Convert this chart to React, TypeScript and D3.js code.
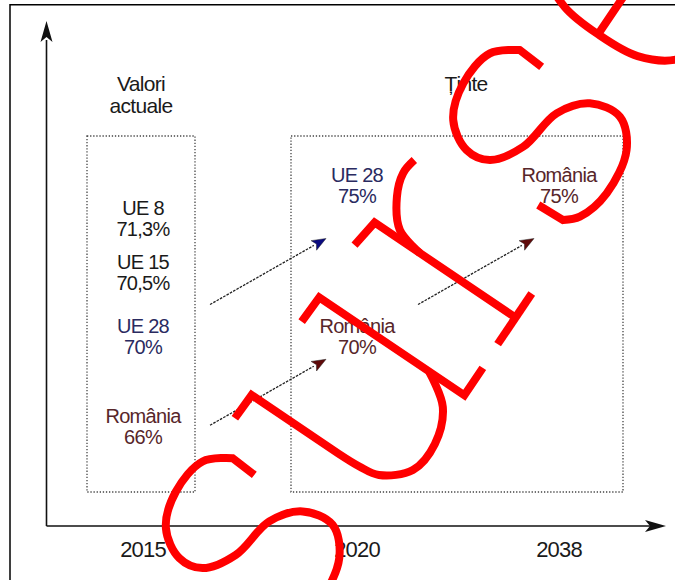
import React from "react";
import * as d3 from "d3";

// ---------- data ----------
const years = ["2015", "2020", "2038"];
const currentLabels = ["UE 8", "UE 15", "UE 28", "România"];
const currentValues = [71.3, 70.5, 70, 66];
const target2020Labels = ["UE 28", "România"];
const target2020Values = [75, 70];
const target2038Labels = ["România"];
const target2038Values = [75];
const headingCurrent = ["Valori", "actuale"];
const headingTargets = ["Ținte"];
const arrowFrom = [[0, 70], [0, 66], [1, 70]];
const arrowTo = [[1, 75], [1, 70], [2, 75]];
const watermarkWord = "surse";

// ---------- styling / layout ----------
const W = 675;
const H = 580;
const FONT = "'Liberation Sans', Arial, Helvetica, sans-serif";
const labelColor: Record<string, string> = {
  "UE 8": "#1a1a1a",
  "UE 15": "#1a1a1a",
  "UE 28": "#2a2a60",
  "România": "#57262a",
};
const headColor: Record<string, string> = {
  "UE 28": "#0a0a80",
  "România": "#600a0a",
};

const xCol = d3.scaleOrdinal<string, number>().domain(years).range([143, 357, 559]);
// label baseline position for a value (diagram, piecewise)
const yVal = d3
  .scaleLinear()
  .domain([66, 70, 70.5, 71.3, 75])
  .range([423.3, 333.3, 269, 215, 181.7]);

const fmt = (v: number) => String(v).replace(".", ",") + "%";

const columns = [
  { labels: currentLabels, values: currentValues },
  { labels: target2020Labels, values: target2020Values },
  { labels: target2038Labels, values: target2038Values },
];

// ---------- watermark glyph strokes (local units, baseline y=0) ----------
type Seg = { k: "L" | "C"; p: [number, number][] };
const glyphs: Record<string, Seg[][]> = {
  s: [
    [
      { k: "L", p: [[116.5, -121.6], [118.2, -149]] },
      {
        k: "C",
        p: [
          [118.2, -149], [98.7, -172], [58.9, -177.3], [22.9, -165.1], [5.5, -137.2],
          [10.3, -112.4], [39.9, -92.2], [86.3, -83.2], [113.2, -61.2], [118.9, -28.8],
          [94.9, -4.6], [47.9, 3.1], [13.6, -6.1], [1.5, -18],
        ],
      },
      { k: "L", p: [[1.5, -18], [0, -47.1]] },
    ],
  ],
  u: [
    [
      { k: "L", p: [[0.6, -177.4], [29.2, -176.5], [29.2, -72]] },
      { k: "C", p: [[29.2, -72], [30.3, -46.7], [34.1, -26.3], [57.3, -0.9], [91.1, 2.8], [126.2, -11.3], [147.5, -42]] },
    ],
    [{ k: "L", p: [[118, -176], [148, -175], [148, 0], [181, 0]] }],
  ],
  r: [
    [{ k: "L", p: [[2, -174], [32, -170], [32, 0]] }],
    [{ k: "L", p: [[0, 0], [61, 0]] }],
    [{ k: "C", p: [[32, -115], [40, -145], [66, -166], [89, -174], [106, -172]] }],
  ],
  e: [
    [
      { k: "L", p: [[6, -93], [112, -93]] },
      {
        k: "C",
        p: [
          [112, -93], [108, -133], [85, -166], [50, -177], [25, -165], [10, -136],
          [6, -93], [10, -48], [30, -13], [65, 2], [98, -6], [118, -28],
        ],
      },
    ],
  ],
};
const glyphOrigins: [number, number][] = [[-368, 598], [-216, 606], [-7, 605], [131, 608], [300, 608]];

const lineGen = d3.line().curve(d3.curveCatmullRom.alpha(0.5));
function strokePath(segs: Seg[]) {
  let d = "";
  segs.forEach((s) => {
    if (s.k === "L") {
      s.p.forEach((pt, j) => {
        if (d !== "" && j === 0) return;
        d += (d === "" ? "M" : "L") + pt[0] + "," + pt[1];
      });
    } else {
      const c = lineGen(s.p) || "";
      d += d === "" ? c : c.replace(/^M[^A-Za-z]*/, "");
    }
  });
  return d;
}

export default function App() {
  const axisY = 526;
  const axisX = 46.5;
  const boxTop = 136;
  const boxBottom = 492;
  const boxes = [
    { x0: xCol(years[0]) - 56, x1: xCol(years[0]) + 52 },
    { x0: xCol(years[1]) - 66, x1: xCol(years[2]) + 64 },
  ];
  const lineH = 21;

  const arrows = arrowFrom.map((f, i) => {
    const t = arrowTo[i];
    const cx = (xCol(years[f[0]]) + xCol(years[t[0]])) / 2 + 18;
    const cy = (yVal(f[1]) + yVal(t[1])) / 2 + 14;
    const hx = 58, hy = -33;
    const x0 = cx - hx, y0 = cy - hy, x1 = cx + hx, y1 = cy + hy;
    const len = Math.hypot(x1 - x0, y1 - y0);
    const ux = (x1 - x0) / len, uy = (y1 - y0) / len;
    const bx = x1 - ux * 14, by = y1 - uy * 14;
    const px = -uy, py = ux;
    const label = columns[t[0]].labels[columns[t[0]].values.indexOf(t[1])];
    return {
      x0, y0, bx, by,
      head: `${x1},${y1} ${bx + px * 5.5},${by + py * 5.5} ${bx + ux * 3},${by + uy * 3} ${bx - px * 5.5},${by - py * 5.5}`,
      color: headColor[label] || "#000",
    };
  });

  return (
    <svg
      width={W}
      height={H}
      style={{ position: "absolute", left: 0, top: 0, background: "#fff" }}
      fontFamily={FONT}
    >
      <rect x={0} y={0} width={W} height={H} fill="#fff" />
      {/* frame */}
      <path d={`M10,${H + 2}V4.75H${W + 2}`} fill="none" stroke="#000" strokeWidth={1.5} />

      {/* axes */}
      <line x1={axisX} y1={axisY} x2={axisX} y2={40} stroke="#111" strokeWidth={1.6} />
      <polygon points={`${axisX},21 ${axisX - 6},42 ${axisX},37 ${axisX + 6},42`} fill="#111" />
      <line x1={axisX} y1={axisY} x2={650} y2={axisY} stroke="#111" strokeWidth={1.6} />
      <polygon points={`666,${axisY} 645,${axisY - 6} 650,${axisY} 645,${axisY + 6}`} fill="#111" />

      {years.map((y) => (
        <text
          key={y}
          x={xCol(y)}
          y={556.5}
          textAnchor="middle"
          fontSize={22}
          letterSpacing={-0.8}
          fill="#1a1a1a"
        >
          {y}
        </text>
      ))}

      {/* dotted boxes */}
      {boxes.map((b, i) => (
        <rect
          key={i}
          x={b.x0}
          y={boxTop}
          width={b.x1 - b.x0}
          height={boxBottom - boxTop}
          fill="none"
          stroke="#444"
          strokeWidth={1.3}
          strokeDasharray="1.3,1.8"
        />
      ))}

      {/* headings */}
      {headingCurrent.map((t, i) => (
        <text key={t} x={(boxes[0].x0 + boxes[0].x1) / 2} y={90.7 + i * 22.6} textAnchor="middle" fontSize={21} letterSpacing={-0.7} fill="#1a1a1a">
          {t}
        </text>
      ))}
      {headingTargets.map((t, i) => (
        <text key={t} x={(xCol(years[1]) + xCol(years[2])) / 2 + 8} y={90.7 + i * 22.6} textAnchor="middle" fontSize={21} letterSpacing={-0.7} fill="#1a1a1a">
          {t}
        </text>
      ))}

      {/* value labels */}
      {columns.map((c, ci) =>
        c.labels.map((l, li) => {
          const x = xCol(years[ci]);
          const y = yVal(c.values[li]);
          const col = labelColor[l] || "#1a1a1a";
          return (
            <g key={ci + "-" + li} fill={col} fontSize={20} letterSpacing={-0.7} textAnchor="middle">
              <text x={x} y={y}>{l}</text>
              <text x={x} y={y + lineH}>{fmt(c.values[li])}</text>
            </g>
          );
        })
      )}

      {/* arrows */}
      {arrows.map((a, i) => (
        <g key={i}>
          <line x1={a.x0} y1={a.y0} x2={a.bx} y2={a.by} stroke="#222" strokeWidth={1.3} strokeDasharray="2.6,1.2" />
          <polygon points={a.head} fill={a.color} stroke="#222" strokeWidth={0.5} />
        </g>
      ))}

      {/* watermark */}
      <g transform="rotate(-56)" fill="none" stroke="#ff0000" strokeWidth={8} strokeLinecap="butt" strokeLinejoin="miter">
        {watermarkWord.split("").map((ch, i) => (
          <g key={i} transform={`translate(${glyphOrigins[i][0]},${glyphOrigins[i][1]})`}>
            {(glyphs[ch] || []).map((st, k) => (
              <path key={k} d={strokePath(st)} />
            ))}
          </g>
        ))}
      </g>
    </svg>
  );
}
